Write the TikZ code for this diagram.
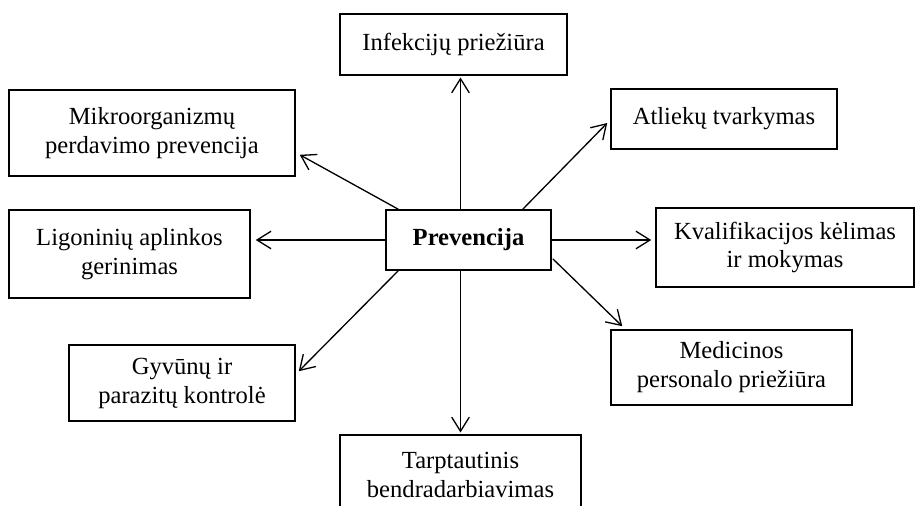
\documentclass[tikz,border=0pt]{standalone}
\usepackage{fontspec}
\setmainfont{Liberation Serif}
\usetikzlibrary{arrows.meta}

\begin{document}
\begin{tikzpicture}[
    x=0.02cm, y=-0.02cm,
    font=\fontsize{14}{16.5}\selectfont,
    box/.style={draw, line width=0.9pt, align=center, inner sep=0pt},
    arr/.style={-{Straight Barb[length=8pt,width=10pt]}, line width=0.75pt}
]
\useasboundingbox (0,0) rectangle (916,506);

\node[box, minimum width=3.3cm, minimum height=1.2cm] (prev) at (468.5,240) {\textbf{Prevencija}};

\node[box, minimum width=4.54cm, minimum height=1.22cm] (infek)  at (453.5,44.5) {Infekcijų priežiūra};
\node[box, minimum width=5.72cm, minimum height=1.72cm] (mikro)  at (152,133)    {Mikroorganizmų\\perdavimo prevencija};
\node[box, minimum width=4.52cm, minimum height=1.2cm]  (atliek) at (724,119)    {Atliekų tvarkymas};
\node[box, minimum width=4.82cm, minimum height=1.76cm] (ligon)  at (129.5,254)  {Ligoninių aplinkos\\gerinimas};
\node[box, minimum width=5.16cm, minimum height=1.58cm] (kvalif) at (785,247.5)  {Kvalifikacijos kėlimas\\ir mokymas};
\node[box, minimum width=4.82cm, minimum height=1.5cm]  (medic)  at (731.5,367.5) {Medicinos\\personalo priežiūra};
\node[box, minimum width=4.52cm, minimum height=1.52cm] (gyvun)  at (182,383)    {Gyvūnų ir\\parazitų kontrolė};
\node[box, minimum width=4.82cm, minimum height=1.6cm]  (tarpt)  at (460.5,475)  {Tarptautinis\\bendradarbiavimas};

% vertical
\draw[arr, shorten >=1pt] (prev.north -| tarpt.north) -- (infek.south -| tarpt.north);
\draw[arr, shorten >=1pt] (prev.south -| tarpt.north) -- (tarpt.north);

% horizontal
\draw[arr, shorten >=0.1cm] (prev.west) -- (prev.west -| ligon.east);
\draw[arr, shorten >=0.08cm] (prev.east) -- (prev.east -| kvalif.west);

% diagonal
\draw[arr] ([shift={(13,0)}]prev.north west) -- ([shift={(4,-22)}]mikro.south east);
\draw[arr] ([shift={(-29,0)}]prev.north east) -- ([shift={(-3,4)}]atliek.west);
\draw[arr] ([shift={(1,-12)}]prev.south east) -- ([shift={(12,-3)}]medic.north west);
\draw[arr] ([shift={(13,0)}]prev.south west) -- ([shift={(3,27)}]gyvun.north east);

\end{tikzpicture}
\end{document}
